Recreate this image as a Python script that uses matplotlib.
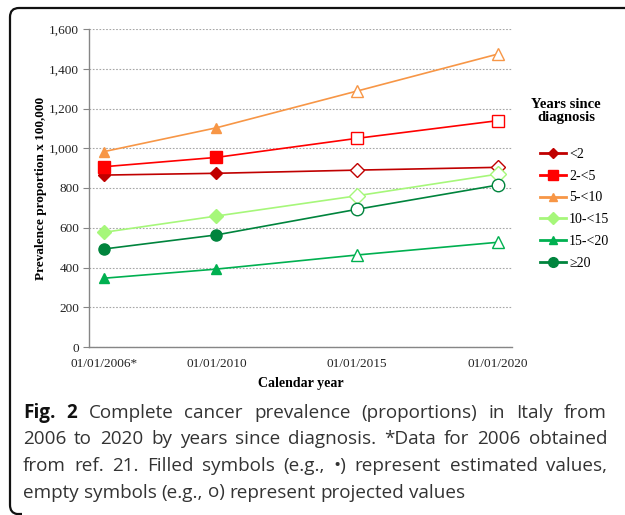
import matplotlib
matplotlib.use("Agg")
import matplotlib.pyplot as plt
from matplotlib.path import Path
from matplotlib.patches import PathPatch
from matplotlib.lines import Line2D
from matplotlib.ticker import FuncFormatter

# ---------------- data ----------------
years = [2006, 2010, 2015, 2020]
x_labels = ["01/01/2006*", "01/01/2010", "01/01/2015", "01/01/2020"]
groups = ["<2", "2-<5", "5-<10", "10-<15", "15-<20", "\u226520"]

lt2 = [865, 874, 890, 904]
g2_5 = [907, 954, 1050, 1139]
g5_10 = [983, 1103, 1288, 1474]
g10_15 = [577, 659, 761, 870]
g15_20 = [346, 392, 463, 527]
ge20 = [493, 564, 693, 815]
series = [lt2, g2_5, g5_10, g10_15, g15_20, ge20]

# first two points estimated (filled), last two projected (empty)
n_estimated = 2

colors = ["#C00000", "#FF0000", "#F79646", "#A6F77A", "#00B050", "#00843D"]
markers = ["D", "s", "^", "D", "^", "o"]
msizes = [6, 8, 7, 7, 7, 8]

W, H = 625, 515
serif = ["Liberation Serif", "DejaVu Serif"]

fig = plt.figure(figsize=(W / 100, H / 100), dpi=100)

def fx(px):
    return px / W

def fy(py):
    return 1 - py / H

ax = fig.add_axes([fx(89), fy(347), fx(512) - fx(89), fy(29) - fy(347)])

for vals, c, m, ms in zip(series, colors, markers, msizes):
    ax.plot(years, vals, color=c, lw=1.2, zorder=2)
    ax.plot(years[:n_estimated], vals[:n_estimated], ls="none", marker=m,
            ms=ms, color=c, mec=c, zorder=3)
    ax.plot(years[n_estimated:], vals[n_estimated:], ls="none", marker=m,
            ms=ms + 1, mfc="white", mec=c, mew=1.0, zorder=3)

ax.set_xlim(2005.47, 2020.5)
ax.set_ylim(0, 1600)
ax.set_yticks(range(0, 1601, 200))
ax.yaxis.set_major_formatter(FuncFormatter(lambda v, p: f"{int(v):,}"))
ax.set_xticks(years)
ax.set_xticklabels(x_labels)
ax.grid(axis="y", color="#A6A6A6", ls=(0, (1.5, 1.5)), lw=0.8)
ax.set_axisbelow(True)
for s in ["top", "right"]:
    ax.spines[s].set_visible(False)
for s in ["left", "bottom"]:
    ax.spines[s].set_color("#868686")
    ax.spines[s].set_linewidth(1.0)
ax.tick_params(axis="y", length=4, color="#868686", labelsize=9.5, pad=3)
ax.tick_params(axis="x", length=0, labelsize=9.5, pad=8)
for lab in ax.get_xticklabels() + ax.get_yticklabels():
    lab.set_family(serif)
    lab.set_color("#222222")

ax.set_ylabel("Prevalence proportion x 100,000", family=serif,
              fontweight="bold", fontsize=9.5)
ax.yaxis.set_label_coords(-0.099, 0.5)
ax.set_xlabel("Calendar year", family=serif, fontweight="bold", fontsize=10)
ax.xaxis.set_label_coords(0.5, -0.095)

# ---------------- legend ----------------
fig.text(fx(566), fy(111), "Years since\ndiagnosis", family=serif,
         fontweight="bold", fontsize=10.5, ha="center", va="center",
         linespacing=1.1)
handles = [Line2D([], [], color=c, marker=m, ms=ms - 1, lw=2)
           for c, m, ms in zip(colors, markers, msizes)]
leg = fig.legend(handles, groups, loc="upper left",
                 bbox_to_anchor=(fx(540), fy(148)), frameon=False,
                 prop={"family": serif, "size": 10}, handlelength=1.9,
                 handletextpad=0.2, labelspacing=0.63, borderpad=0,
                 borderaxespad=0)

# ---------------- frame ----------------
r = 9
verts = [(W + 5, 8), (10 + r, 8), (10, 8), (10, 8 + r), (10, 505),
         (10, 513), (17, 514), (22, 514)]
codes = [Path.MOVETO, Path.LINETO, Path.CURVE3, Path.CURVE3, Path.LINETO,
         Path.CURVE3, Path.CURVE3, Path.LINETO]
verts = [(fx(a), fy(b)) for a, b in verts]
fig.patches.append(PathPatch(Path(verts, codes), fill=False, lw=1.6,
                             ec="#111111", transform=fig.transFigure))

# ---------------- caption (justified) ----------------
cap_font = ["Open Sans", "DejaVu Sans"]
cap_size = 13.6
cap_lines = [
    [("Fig.", True), ("2", True), ("Complete", False), ("cancer", False),
     ("prevalence", False), ("(proportions)", False), ("in", False),
     ("Italy", False), ("from", False)],
    [(w, False) for w in "2006 to 2020 by years since diagnosis. *Data for 2006 obtained".split()],
    [(w, False) for w in "from ref. 21. Filled symbols (e.g., \u2022) represent estimated values,".split()],
    [(w, False) for w in "empty symbols (e.g., o) represent projected values".split()],
]
line_base = [418, 444.5, 471, 497.5]
x0, x1 = 23, 607

renderer = fig.canvas.get_renderer()
probe1 = fig.text(0, 0, "a a", family=cap_font, fontsize=cap_size)
probe2 = fig.text(0, 0, "aa", family=cap_font, fontsize=cap_size)
sp = probe1.get_window_extent(renderer).width - probe2.get_window_extent(renderer).width
probe1.remove()
probe2.remove()

for i, (words, yy) in enumerate(zip(cap_lines, line_base)):
    texts = []
    for w, bold in words:
        t = fig.text(0, fy(yy), w, family=cap_font, fontsize=cap_size,
                     fontweight="bold" if bold else "normal",
                     color="#111111" if bold else "#333333",
                     ha="left", va="baseline")
        texts.append(t)
    widths = [t.get_window_extent(renderer).width for t in texts]
    if i < len(cap_lines) - 1:
        gap = max(sp * 0.8, (x1 - x0 - sum(widths)) / (len(words) - 1))
    else:
        gap = sp
    x = x0
    for t, w in zip(texts, widths):
        t.set_x(fx(x))
        x += w + gap

fig.savefig("out.png", dpi=100)
